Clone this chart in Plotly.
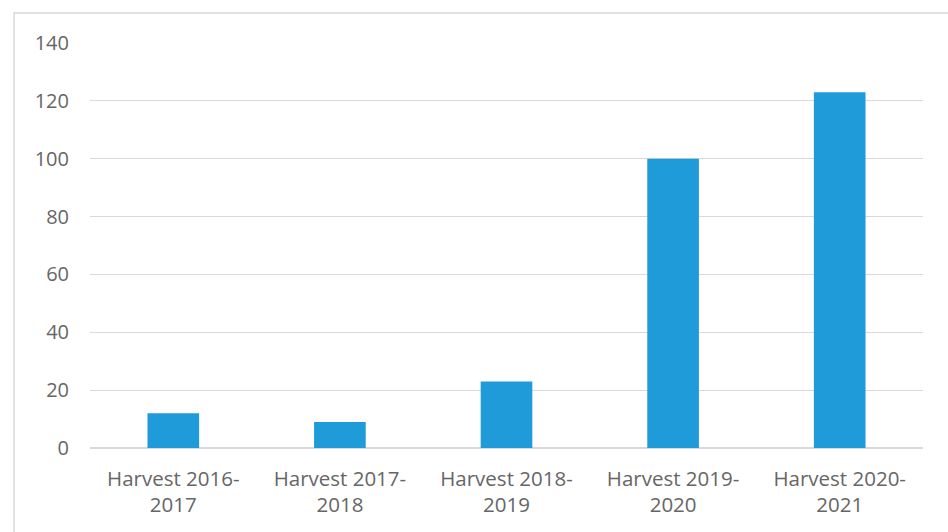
import plotly.graph_objects as go

categories = ["Harvest 2016-<br>2017", "Harvest 2017-<br>2018", "Harvest 2018-<br>2019",
              "Harvest 2019-<br>2020", "Harvest 2020-<br>2021"]
values = [12, 9, 23, 100, 123]
y_ticks = [0, 20, 40, 60, 80, 100, 120, 140]

fig = go.Figure(go.Bar(x=categories, y=values, marker=dict(color="#1F9BDA", line=dict(width=0))))

L, R, T, B = 90, 25, 43, 84
W, H = 948, 532
pw, ph = W - L - R, H - T - B

fig.update_layout(
    width=W, height=H,
    margin=dict(l=L, r=R, t=T, b=B),
    paper_bgcolor="white", plot_bgcolor="white",
    bargap=0.69,
    showlegend=False,
    font=dict(family="Open Sans, Liberation Sans, sans-serif", size=20, color="#666666"),
    xaxis=dict(showgrid=False, showline=True, linecolor="#D9D9D9", linewidth=1,
               ticks="", ticklabelstandoff=12, tickfont=dict(size=20.5, color="#666666")),
    yaxis=dict(range=[0, 140], tickvals=y_ticks, showgrid=True, gridcolor="#D9D9D9",
               gridwidth=1, zeroline=True, zerolinecolor="#D9D9D9", showline=False,
               ticks="", ticklabelstandoff=20, tickfont=dict(size=20, color="#666666")),
    shapes=[dict(type="rect", xref="paper", yref="paper",
                 x0=(14 - L) / pw, x1=(W + 5 - L) / pw,
                 y0=-(B + 5) / ph, y1=1 + (T - 13) / ph,
                 line=dict(color="#D9D9D9", width=1.5), fillcolor="rgba(0,0,0,0)", layer="below")],
)

fig.write_html("out.html")
